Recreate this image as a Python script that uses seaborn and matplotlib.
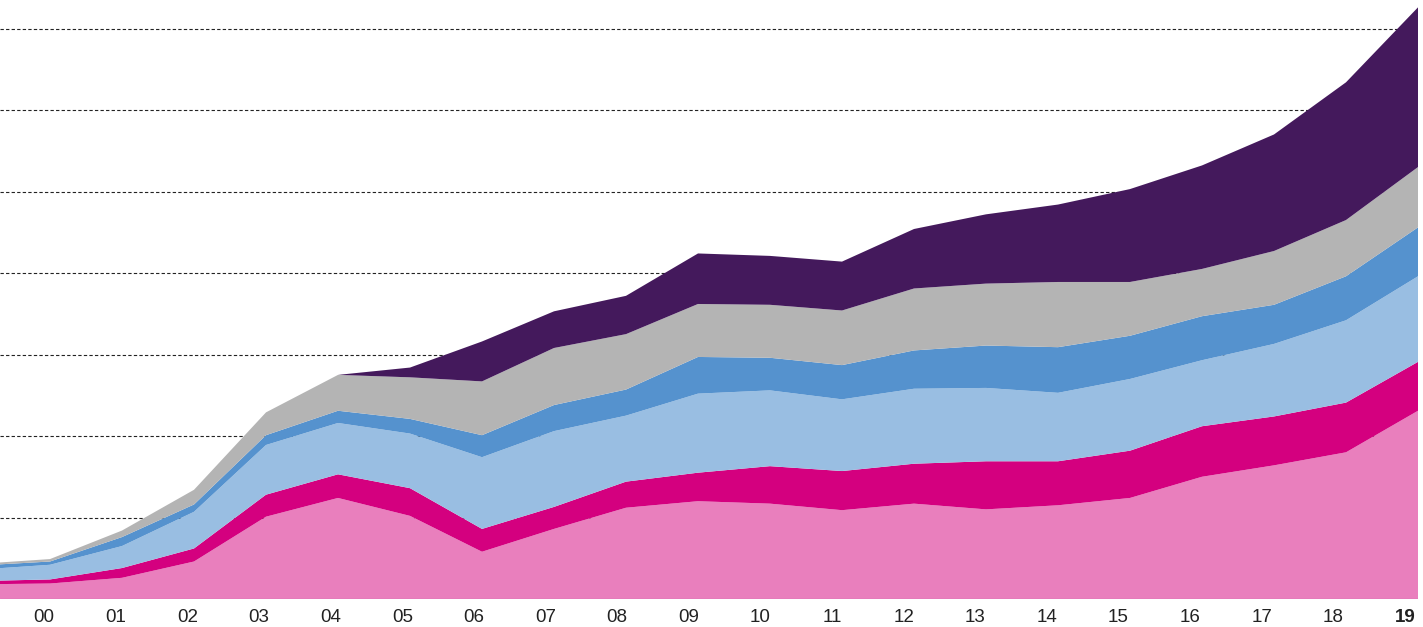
import matplotlib
matplotlib.use("Agg")
import matplotlib.pyplot as plt
import numpy as np
import pandas as pd
import seaborn as sns

# years 1999..2019, labels shown for 2000..2019
years = list(range(1999, 2020))
tick_labels = ["00", "01", "02", "03", "04", "05", "06", "07", "08", "09",
               "10", "11", "12", "13", "14", "15", "16", "17", "18", "19"]

# layer values, bottom to top
s_pink = [1.8, 1.9, 2.6, 4.6, 10.1, 12.4, 10.2, 5.8, 8.6, 11.2, 12.0,
          11.7, 10.9, 11.7, 11.0, 11.5, 12.4, 15.0, 16.4, 18.0, 23.1]
s_magenta = [0.4, 0.5, 1.2, 1.6, 2.7, 2.9, 3.4, 2.8, 2.7, 3.2, 3.5,
             4.6, 4.8, 4.9, 5.9, 5.4, 5.8, 6.2, 6.0, 6.1, 6.0]
s_lightblue = [1.4, 1.8, 2.7, 4.5, 6.1, 6.3, 6.7, 8.8, 9.3, 8.1, 9.7,
               9.3, 8.8, 9.2, 9.0, 8.4, 8.8, 8.1, 8.9, 10.1, 10.5]
s_blue = [0.5, 0.4, 1.1, 0.9, 1.2, 1.5, 1.8, 2.7, 3.2, 3.2, 4.5,
          4.0, 4.2, 4.7, 5.2, 5.6, 5.3, 5.4, 4.8, 5.4, 6.0]
s_gray = [0.2, 0.3, 0.8, 1.8, 2.8, 4.4, 5.1, 6.6, 7.0, 6.8, 6.5,
          6.5, 6.7, 7.6, 7.6, 8.0, 6.6, 5.8, 6.6, 6.9, 7.4]
s_purple = [0, 0, 0, 0, 0, 0, 1.2, 4.9, 4.5, 4.7, 6.2,
            6.0, 6.0, 7.3, 8.5, 9.5, 11.4, 12.7, 14.3, 16.9, 19.6]

colors = ["#E97FBD", "#D4007F", "#99BEE2", "#5592CE", "#B4B4B4", "#44195C"]

df = pd.DataFrame({
    "year": years,
    "pink": s_pink,
    "magenta": s_magenta,
    "lightblue": s_lightblue,
    "blue": s_blue,
    "gray": s_gray,
    "purple": s_purple,
})

sns.set_theme(style="white")
plt.rcParams['font.family'] = ['Liberation Sans', 'DejaVu Sans']

fig = plt.figure(figsize=(14.23, 6.27), dpi=100)
ax = fig.add_axes([0, 28 / 627, 1418 / 1423, 599 / 627])

series = [df[c] for c in ["pink", "magenta", "lightblue", "blue", "gray", "purple"]]
ax.stackplot(df["year"], *series, colors=sns.color_palette(colors), linewidth=0, zorder=2)

ax.set_xlim(2000 - 50 / 72, 2019)
ax.set_ylim(0, 73.5)

# dashed gridlines
ax.set_yticks(np.arange(10, 71, 10))
ax.set_yticklabels([])
ax.yaxis.grid(True, color="#222222", linestyle=(0, (3, 2)), linewidth=0.8, zorder=1)
ax.set_axisbelow(True)

# labels sit a little left of the data points
ax.set_xticks(np.linspace(2000 - 0.08, 2019 - 0.18, 20))
ax.set_xticklabels(tick_labels, fontsize=13.5, color="#222222")
ax.get_xticklabels()[-1].set_fontweight("bold")
ax.tick_params(axis="x", length=0, pad=7)
ax.tick_params(axis="y", length=0)

for sp in ax.spines.values():
    sp.set_visible(False)
ax.axhline(0, color="#D86FAE", linewidth=1, zorder=3)

plt.savefig("out.png", dpi=100)
